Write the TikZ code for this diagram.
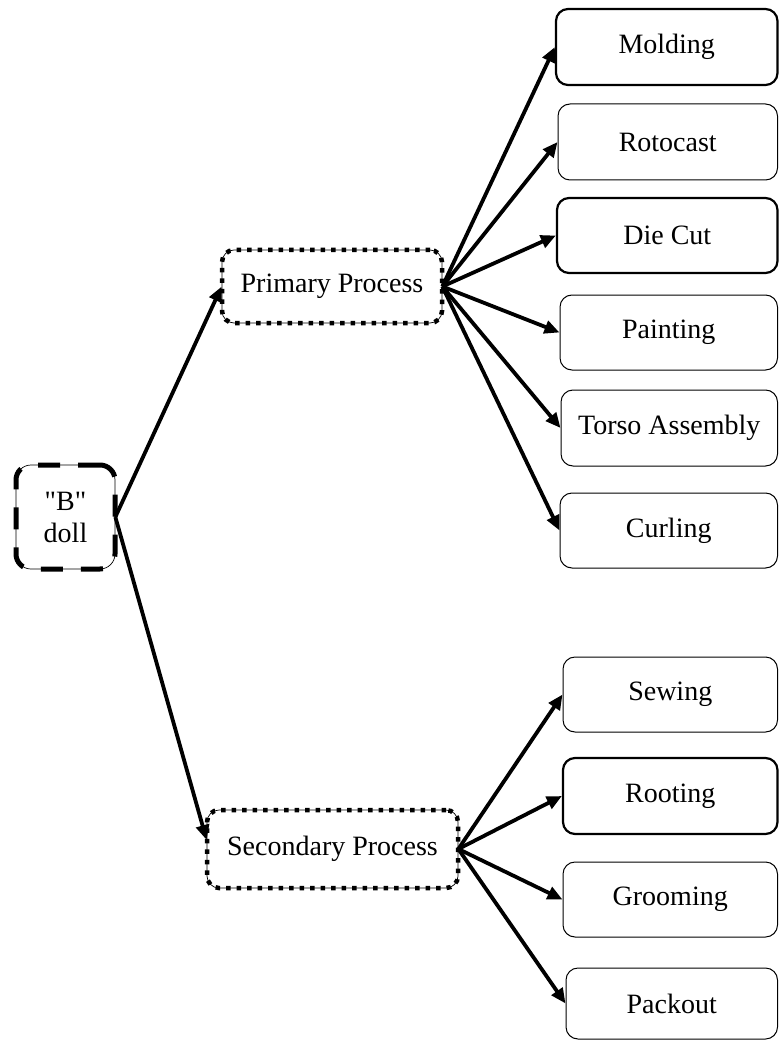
\documentclass[tikz,border=0pt]{standalone}
\usepackage{fontspec}
\setmainfont{Liberation Serif}[Ligatures=TeXOff]
\usetikzlibrary{arrows.meta,calc}
\begin{document}
\begin{tikzpicture}[x=1pt,y=-1pt,
  lbl/.style={font=\fontsize{28}{32}\selectfont, align=center, inner sep=0pt},
  task/.style={lbl, draw, line width=1pt, rounded corners=12pt, minimum height=75pt},
  keytask/.style={task, line width=2.2pt},
  stage/.style={lbl, draw, line width=0.7pt, rounded corners=12pt,
    postaction={draw, line width=4.5pt, dash pattern=on 4.5pt off 6pt}},
  root/.style={lbl, draw, line width=0.7pt, rounded corners=15pt,
    postaction={draw, line width=5pt, dash pattern=on 22pt off 18pt}},
  link/.style={line width=3.8pt, -{Triangle[length=15pt,width=13pt]}}
]
\useasboundingbox (0,0) rectangle (779,1040);

% product and the two process stages
\node[root, minimum width=99pt, minimum height=104pt] (doll) at (65.5,517) {"B"\\doll};
\node[stage, minimum width=220pt, minimum height=73pt] (prim) at (332,286.5) {Primary Process};
\node[stage, minimum width=251pt, minimum height=78pt] (sec) at (332.5,849) {Secondary Process};

% primary operations
\node[keytask, minimum width=221.5pt, minimum height=76pt] (mold) at (666.75,47) {Molding};
\node[task, minimum width=219.5pt, minimum height=76pt] (roto) at (667.75,142) {Rotocast};
\node[keytask, minimum width=220.5pt] (die) at (667.25,235.5) {Die Cut};
\node[task, minimum width=217.5pt] (paint) at (668.75,332.5) {Painting};
\node[task, minimum width=216.5pt, minimum height=76pt] (torso) at (669.25,428) {Torso Assembly};
\node[task, minimum width=217.5pt] (curl) at (668.75,530.5) {Curling};

% secondary operations
\node[task, minimum width=214.5pt] (sew) at (670.25,694.5) {Sewing};
\node[keytask, minimum width=214.5pt, minimum height=76pt] (root) at (670.25,796) {Rooting};
\node[task, minimum width=214.5pt] (groom) at (670.25,899.5) {Grooming};
\node[task, minimum width=211.5pt, minimum height=71pt] (pack) at (671.75,1003.5) {Packout};

% connectors
\draw[link] (doll.east) -- (prim.west);
\draw[link] (doll.east) -- ($(sec.west)+(0,-9)$);
\foreach \t in {mold,roto,die,paint,torso,curl}
  \draw[link] (prim.east) -- (\t.west);
\foreach \t in {sew,root,groom,pack}
  \draw[link] (sec.east) -- (\t.west);
\end{tikzpicture}
\end{document}
